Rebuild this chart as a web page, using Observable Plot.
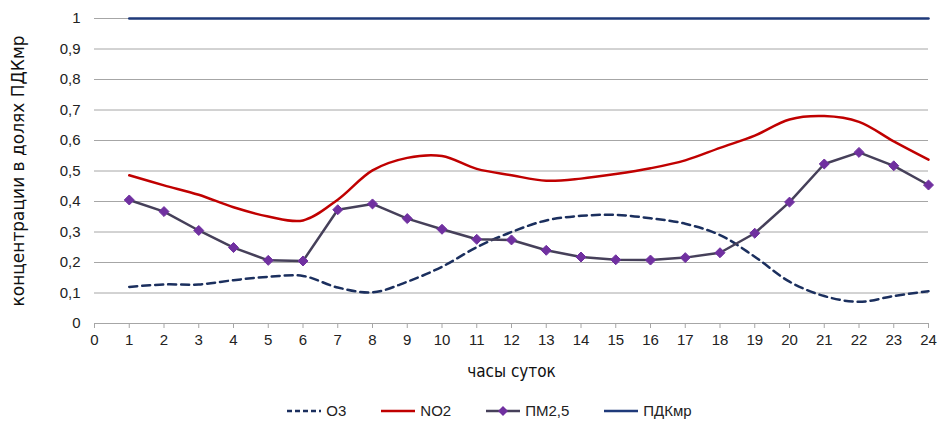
<!DOCTYPE html>
<html>
<head>
<meta charset="utf-8">
<script src="https://cdn.jsdelivr.net/npm/d3@7"></script>
<script src="https://cdn.jsdelivr.net/npm/@observablehq/plot@0.6"></script>
<style>
  body { margin: 0; background: #fff; font-family: "Liberation Sans Narrow", "Liberation Sans", Arial, sans-serif; }
  #legend { display: flex; justify-content: center; gap: 34px; font-size: 15px; color: #222; margin-left: 40px; height: 31px; align-items: center; }
  #legend span.item { display: flex; align-items: center; gap: 4px; }
</style>
</head>
<body>
<div id="chart"></div>
<div id="legend"></div>
<script>
const hours = [1,2,3,4,5,6,7,8,9,10,11,12,13,14,15,16,17,18,19,20,21,22,23,24];
const o3  = [0.12,0.128,0.128,0.142,0.153,0.156,0.118,0.102,0.137,0.186,0.25,0.30,0.338,0.353,0.356,0.345,0.327,0.29,0.219,0.137,0.09,0.071,0.09,0.106];
const no2 = [0.486,0.453,0.422,0.381,0.351,0.338,0.406,0.502,0.543,0.549,0.507,0.486,0.468,0.475,0.49,0.509,0.535,0.576,0.616,0.669,0.68,0.661,0.597,0.537];
const pm25 = [0.405,0.367,0.305,0.249,0.207,0.205,0.373,0.392,0.344,0.309,0.276,0.274,0.240,0.218,0.209,0.208,0.216,0.232,0.296,0.398,0.523,0.561,0.517,0.454];
const pdk = [1,1,1,1,1,1,1,1,1,1,1,1,1,1,1,1,1,1,1,1,1,1,1,1];
const seriesNames = ["O3", "NO2", "ПМ2,5", "ПДКмр"];
const colors = {"O3": "#1b2f5e", "NO2": "#c00000", "ПМ2,5": "#46405a", "ПДКмр": "#1f3a7a"};
const markerColor = "#7030a0";
const xTicks = d3.range(0, 25);
const yTicks = [0,0.1,0.2,0.3,0.4,0.5,0.6,0.7,0.8,0.9,1];
const yTickLabels = ["0","0,1","0,2","0,3","0,4","0,5","0,6","0,7","0,8","0,9","1"];
const xTitle = "часы суток";
const yTitle = "концентрации в долях ПДКмр";

const rows = (vals) => hours.map((h, i) => ({hour: h, value: vals[i]}));

const chart = Plot.plot({
  width: 938,
  height: 395,
  marginLeft: 94,
  marginRight: 10,
  marginTop: 18,
  marginBottom: 72,
  style: {fontFamily: '"Liberation Sans Narrow", "Liberation Sans", Arial, sans-serif', fontSize: "15px", color: "#222"},
  x: {domain: [0, 24]},
  y: {domain: [0, 1]},
  marks: [
    Plot.gridY(yTicks, {stroke: "#a6a6a6", strokeOpacity: 1}),
    Plot.axisY(yTicks, {tickSize: 0, tickPadding: 14, tickFormat: (d) => yTickLabels[yTicks.indexOf(d)], label: null, fontSize: 15}),
    Plot.axisX(xTicks, {tickSize: 5, tickPadding: 6, stroke: "#a6a6a6", label: null, fontSize: 15, color: "#222"}),
    Plot.ruleY([0], {stroke: "#a6a6a6"}),
    Plot.line(rows(pdk), {x: "hour", y: "value", stroke: colors["ПДКмр"], strokeWidth: 2.5}),
    Plot.line(rows(o3), {x: "hour", y: "value", stroke: colors["O3"], strokeWidth: 2.5, strokeDasharray: "8,5", curve: "catmull-rom"}),
    Plot.line(rows(no2), {x: "hour", y: "value", stroke: colors["NO2"], strokeWidth: 2.5, curve: "catmull-rom"}),
    Plot.line(rows(pm25), {x: "hour", y: "value", stroke: colors["ПМ2,5"], strokeWidth: 2.5}),
    Plot.dot(rows(pm25), {x: "hour", y: "value", symbol: "diamond2", fill: markerColor, stroke: markerColor, strokeWidth: 1, r: 4.5}),
    Plot.text([yTitle], {frameAnchor: "left", textAnchor: "middle", rotate: -90, dx: -76, fontSize: 17, fontFamily: '"DejaVu Sans", Verdana, sans-serif', fill: "#111"}),
    Plot.text([xTitle], {frameAnchor: "bottom", dy: 53, fontSize: 17, fontFamily: '"DejaVu Sans Condensed", "DejaVu Sans", sans-serif', fill: "#111"})
  ]
});
document.getElementById("chart").appendChild(chart);

// Legend
const legend = document.getElementById("legend");
seriesNames.forEach((name) => {
  const item = document.createElement("span");
  item.className = "item";
  const svg = d3.create("svg").attr("width", 36).attr("height", 12);
  const line = svg.append("line").attr("x1", 1).attr("x2", 35).attr("y1", 6).attr("y2", 6)
    .attr("stroke", colors[name]).attr("stroke-width", 2.5);
  if (name === "O3") line.attr("stroke-dasharray", "5,3");
  if (name === "ПМ2,5") svg.append("path").attr("d", "M18,1 L23,6 L18,11 L13,6 Z").attr("fill", markerColor);
  item.appendChild(svg.node());
  const t = document.createElement("span");
  t.textContent = name;
  item.appendChild(t);
  legend.appendChild(item);
});
</script>
</body>
</html>
